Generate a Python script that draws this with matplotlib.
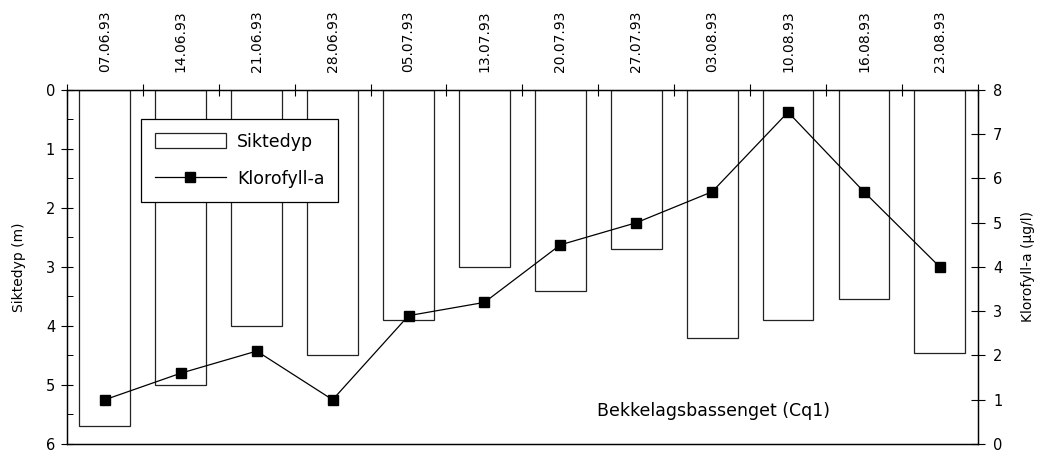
import matplotlib.pyplot as plt
from matplotlib.patches import Patch
from matplotlib.lines import Line2D

dates = ["07.06.93", "14.06.93", "21.06.93", "28.06.93", "05.07.93", "13.07.93",
         "20.07.93", "27.07.93", "03.08.93", "10.08.93", "16.08.93", "23.08.93"]
siktedyp = [5.7, 5.0, 4.0, 4.5, 3.9, 3.0, 3.4, 2.7, 4.2, 3.9, 3.55, 4.45]
klorofyll = [1.0, 1.6, 2.1, 1.0, 2.9, 3.2, 4.5, 5.0, 5.7, 7.5, 5.7, 4.0]

if __name__ == "__main__":
  plt.rcParams['font.family'] = ['DejaVu Sans']
  fig = plt.figure(figsize=(10.38, 4.58), dpi=100)
  ax = fig.add_axes([0.0645, 0.0306, 0.8775, 0.7729])
  x = list(range(len(dates)))

  ax.bar(x, siktedyp, width=0.67, bottom=0, color='white', edgecolor='#222222', linewidth=0.9, zorder=2)
  ax.set_xlim(-0.5, len(dates) - 0.5)
  ax.set_ylim(6, 0)
  ax.set_yticks(range(0, 7))
  ax.set_yticks([i + 0.5 for i in range(6)], minor=True)
  ax.tick_params(axis='y', which='major', direction='inout', length=9, width=0.8, labelsize=10.5, pad=4)
  ax.tick_params(axis='y', which='minor', direction='in', length=4, width=0.7)
  ax.set_ylabel("Siktedyp (m)", fontsize=10, labelpad=14)

  # dates on top, ticks at category boundaries
  ax.xaxis.tick_top()
  ax.set_xticks(x)
  ax.set_xticklabels(dates, rotation=90, fontsize=10)
  ax.set_xticks([i - 0.5 for i in range(len(dates) + 1)], minor=True)
  ax.tick_params(axis='x', which='major', length=0, pad=13)
  ax.tick_params(axis='x', which='minor', direction='inout', length=8, width=0.8, top=True, bottom=False)

  ax2 = ax.twinx()
  ax2.plot(x, klorofyll, color='black', linewidth=0.9, marker='s', markersize=6.5, zorder=3)
  ax2.set_ylim(0, 8)
  ax2.set_yticks(range(0, 9))
  ax2.tick_params(axis='y', direction='inout', length=10, width=0.8, labelsize=10.5, pad=6)
  ax2.set_ylabel("Klorofyll-a (µg/l)", fontsize=10, labelpad=13)

  for a in (ax, ax2):
    for s in a.spines.values():
      s.set_linewidth(0.9)

  handles = [Patch(facecolor='white', edgecolor='#222222', linewidth=0.9),
             Line2D([0], [0], color='black', linewidth=0.9, marker='s', markersize=6.5)]
  leg = ax2.legend(handles, ["Siktedyp", "Klorofyll-a"], loc='upper left',
                   bbox_to_anchor=(0.081, 0.918), fontsize=12.5, frameon=True, fancybox=False,
                   edgecolor='black', framealpha=1, handlelength=4.1, handleheight=0.95,
                   borderpad=0.8, labelspacing=1.1, handletextpad=0.65, borderaxespad=0)
  leg.get_frame().set_linewidth(0.9)

  ax2.text(0.582, 0.093, "Bekkelagsbassenget (Cq1)", transform=ax2.transAxes,
           fontsize=12.5, va='center', ha='left')

  plt.savefig("out.png", dpi=100)
